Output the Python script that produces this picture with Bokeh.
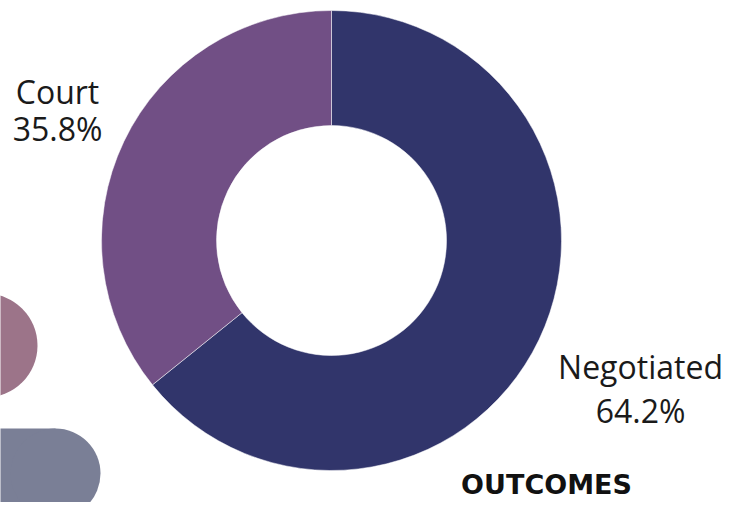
import math
from bokeh.plotting import figure
from bokeh.models import Range1d
from bokeh.core.properties import value
from bokeh.embed import file_html
from bokeh.resources import INLINE

# data
categories = ["Negotiated", "Court"]
shares = [64.2, 35.8]
colors = ["#31356B", "#714F85"]
title_text = "OUTCOMES"

W, H = 739, 502
p = figure(width=W, height=H, output_backend="svg", toolbar_location=None,
           x_range=Range1d(0, W), y_range=Range1d(-H, 0),
           min_border=0, outline_line_color=None)
p.axis.visible = False
p.grid.visible = False
p.background_fill_color = "white"
p.border_fill_color = "white"

# decorative shapes
p.circle(x=[-15], y=[-345], radius=52, fill_color="#9C7489", line_color=None)
p.quad(left=[-100], right=[55], top=[-428], bottom=[-540], fill_color="#7A7F96", line_color=None)
p.circle(x=[55], y=[-473], radius=45, fill_color="#7A7F96", line_color=None)

# donut
cx, cy = 331, -240
total = sum(shares)
start = math.pi / 2
starts, ends = [], []
for s in shares:
    a = 2 * math.pi * s / total
    starts.append(start)
    ends.append(start - a)
    start -= a
p.annular_wedge(x=[cx] * len(shares), y=[cy] * len(shares), inner_radius=115, outer_radius=230,
                start_angle=starts, end_angle=ends, direction="clock",
                fill_color=colors, line_color="white", line_width=0.5)

font = value("Open Sans")
pcts = [f"{s:.1f}%" for s in shares]
label_pos = {"Negotiated": (640, -366, -410), "Court": (57, -91, -128)}
for c, pc in zip(categories, pcts):
    x, y1, y2 = label_pos[c]
    p.text(x=[x, x], y=[y1, y2], text=[c, pc], text_align="center", text_baseline="middle",
           text_font=font, text_font_size="32px", text_color="#1a1a1a")

p.text(x=[546], y=[-484], text=[title_text], text_align="center", text_baseline="middle",
       text_font=value("DejaVu Sans"), text_font_size="27px", text_font_style="bold", text_color="#111111")

open("out.html", "w").write(file_html(p, INLINE))
